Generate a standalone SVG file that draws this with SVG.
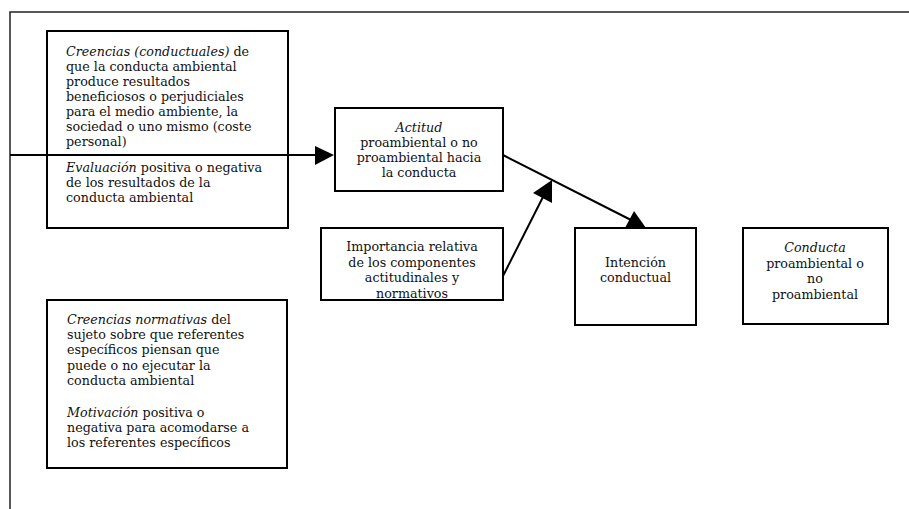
<svg xmlns="http://www.w3.org/2000/svg" width="909" height="509" viewBox="0 0 909 509">
<defs>
<style>
.box{fill:#fff;stroke:#000;stroke-width:2}
.ln{stroke:#000;stroke-width:2;fill:none}
.hd{fill:#000}
text{font-family:"DejaVu Serif","Liberation Serif",serif;font-size:12.7px;fill:#111}
.c{text-anchor:middle}
.i{font-style:italic}
</style>
</defs>
<rect width="909" height="509" fill="#fff"/>
<path d="M10,509 V12 H909" fill="none" stroke="#222" stroke-width="1.5"/>

<g id="n-creencias">
<rect class="box" x="47" y="31" width="241" height="197"/>
<text x="66" y="56"><tspan class="i">Creencias (conductuales)</tspan>  de</text>
<text x="66" y="71">que la conducta ambiental</text>
<text x="66" y="86">produce resultados</text>
<text x="66" y="101">beneficiosos o perjudiciales</text>
<text x="66" y="116">para el medio ambiente, la</text>
<text x="66" y="131">sociedad o uno mismo (coste</text>
<text x="66" y="146">personal)</text>
<text x="66" y="172"><tspan class="i">Evaluación</tspan> positiva o negativa</text>
<text x="66" y="187">de los resultados de la</text>
<text x="66" y="202">conducta ambiental</text>
</g>

<g id="n-normativas">
<rect class="box" x="47" y="300" width="240" height="168"/>
<text x="67" y="324"><tspan class="i">Creencias normativas</tspan> del</text>
<text x="67" y="339">sujeto sobre que referentes</text>
<text x="67" y="354">específicos piensan que</text>
<text x="67" y="369.5">puede o no ejecutar la</text>
<text x="67" y="385">conducta ambiental</text>
<text x="67" y="417"><tspan class="i">Motivación</tspan>  positiva o</text>
<text x="67" y="432">negativa para acomodarse a</text>
<text x="67" y="447">los referentes específicos</text>
</g>

<g id="n-actitud">
<rect class="box" x="335" y="108" width="168" height="83"/>
<text class="c i" x="419" y="132">Actitud</text>
<text class="c" x="419" y="147">proambiental o no</text>
<text class="c" x="419" y="162">proambiental hacia</text>
<text class="c" x="419" y="177">la conducta</text>
</g>

<g id="n-importancia">
<rect class="box" x="321" y="228" width="182" height="72"/>
<text class="c" x="412" y="251">Importancia relativa</text>
<text class="c" x="412" y="266.5">de los componentes</text>
<text class="c" x="412" y="282">actitudinales y</text>
<text class="c" x="412" y="297.5">normativos</text>
</g>

<g id="n-intencion">
<rect class="box" x="575" y="228" width="121" height="97"/>
<text class="c" x="635.5" y="267">Intención</text>
<text class="c" x="635.5" y="282">conductual</text>
</g>

<g id="n-conducta">
<rect class="box" x="743" y="228" width="145" height="96"/>
<text class="c i" x="815" y="252">Conducta</text>
<text class="c" x="815" y="267.5">proambiental o</text>
<text class="c" x="815" y="283">no</text>
<text class="c" x="815" y="298.5">proambiental</text>
</g>

<g id="connectors">
<line class="ln" x1="10" y1="155" x2="318" y2="155"/>
<path class="hd" d="M315,146 L334,155 L315,165 Z"/>
<line class="ln" x1="503" y1="155" x2="633" y2="221"/>
<path class="hd" d="M625,228 L646,228 L634,211 Z"/>
<line class="ln" x1="503" y1="276" x2="545" y2="193"/>
<path class="hd" d="M533,193 L552,180 L552,203 Z"/>
</g>
</svg>
